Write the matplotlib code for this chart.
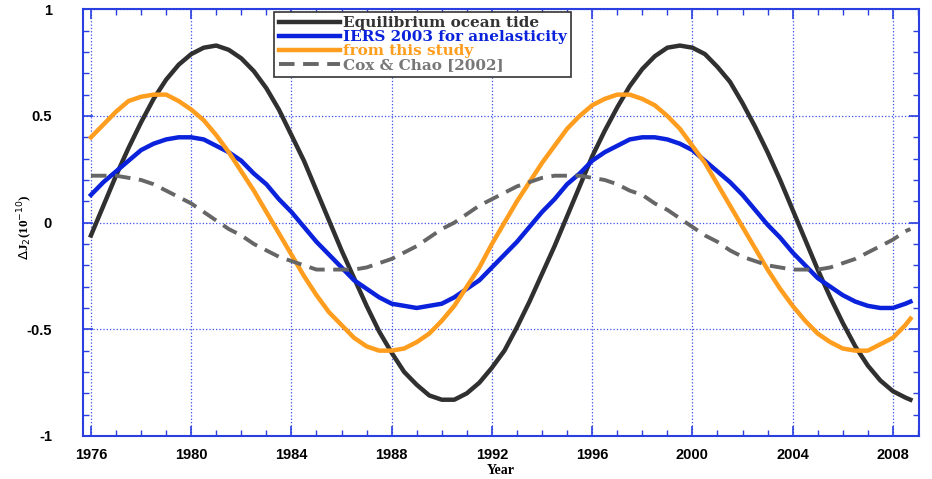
import matplotlib
matplotlib.use("Agg")
import matplotlib.pyplot as plt
from matplotlib.ticker import MultipleLocator

# half-year samples; last point is the end of the record
years = [1976 + 0.5 * i for i in range(66)] + [2008.7]

equilibrium = [-0.06, 0.08, 0.22, 0.35, 0.47, 0.58, 0.67, 0.74, 0.79, 0.82,
               0.83, 0.81, 0.77, 0.71, 0.63, 0.53, 0.41, 0.29, 0.15, 0.01,
               -0.13, -0.26, -0.39, -0.51, -0.61, -0.70, -0.76, -0.81, -0.83, -0.83,
               -0.80, -0.75, -0.68, -0.60, -0.49, -0.37, -0.24, -0.11, 0.03, 0.17,
               0.31, 0.43, 0.54, 0.64, 0.72, 0.78, 0.82, 0.83, 0.82, 0.79,
               0.73, 0.66, 0.56, 0.45, 0.33, 0.20, 0.06, -0.08, -0.22, -0.35,
               -0.47, -0.58, -0.67, -0.74, -0.79, -0.82, -0.83]

iers2003 = [0.13, 0.19, 0.24, 0.29, 0.34, 0.37, 0.39, 0.40, 0.40, 0.39,
            0.36, 0.33, 0.29, 0.23, 0.18, 0.11, 0.05, -0.02, -0.09, -0.15,
            -0.21, -0.27, -0.31, -0.35, -0.38, -0.39, -0.40, -0.39, -0.38, -0.35,
            -0.31, -0.27, -0.21, -0.15, -0.09, -0.02, 0.05, 0.11, 0.18, 0.23,
            0.29, 0.33, 0.36, 0.39, 0.40, 0.40, 0.39, 0.37, 0.34, 0.29,
            0.24, 0.19, 0.13, 0.06, -0.01, -0.07, -0.14, -0.20, -0.26, -0.30,
            -0.34, -0.37, -0.39, -0.40, -0.40, -0.38, -0.37]

this_study = [0.40, 0.46, 0.52, 0.57, 0.59, 0.60, 0.60, 0.57, 0.53, 0.48,
              0.41, 0.33, 0.24, 0.15, 0.05, -0.05, -0.15, -0.25, -0.34, -0.42,
              -0.48, -0.54, -0.58, -0.60, -0.60, -0.59, -0.56, -0.52, -0.46, -0.39,
              -0.30, -0.21, -0.10, 0.00, 0.10, 0.19, 0.28, 0.36, 0.44, 0.50,
              0.55, 0.58, 0.60, 0.60, 0.58, 0.55, 0.50, 0.44, 0.36, 0.28,
              0.18, 0.08, -0.02, -0.12, -0.22, -0.31, -0.39, -0.46, -0.52, -0.56,
              -0.59, -0.60, -0.60, -0.57, -0.54, -0.48, -0.45]

cox_chao = [0.22, 0.22, 0.22, 0.21, 0.20, 0.18, 0.15, 0.12, 0.09, 0.05,
            0.01, -0.03, -0.06, -0.10, -0.13, -0.16, -0.18, -0.20, -0.22, -0.22,
            -0.22, -0.22, -0.21, -0.19, -0.17, -0.14, -0.11, -0.07, -0.03, 0.00,
            0.04, 0.08, 0.11, 0.14, 0.17, 0.19, 0.21, 0.22, 0.22, 0.22,
            0.21, 0.20, 0.18, 0.15, 0.13, 0.09, 0.06, 0.02, -0.02, -0.06,
            -0.09, -0.13, -0.16, -0.18, -0.20, -0.21, -0.22, -0.22, -0.22, -0.21,
            -0.19, -0.17, -0.14, -0.11, -0.08, -0.04, -0.03]

axis_blue = '#2a3fe0'

fig = plt.figure(figsize=(9.32, 4.79), dpi=100)
ax = fig.add_axes([0.0887, 0.0898, 0.8973, 0.8908])

ax.plot(years, equilibrium, color='#303030', lw=3.2, label='Equilibrium ocean tide')
ax.plot(years, iers2003, color='#0a22dc', lw=3.2, label='IERS 2003 for anelasticity')
ax.plot(years, this_study, color='#ff9d1e', lw=3.2, label='from this study')
ax.plot(years, cox_chao, color='#666666', lw=2.8, dashes=(4, 2.2),
        label='Cox & Chao [2002]')

ax.set_xlim(1975.67, 2009.04)
ax.set_ylim(-1, 1)
ax.xaxis.set_major_locator(MultipleLocator(4))
ax.xaxis.set_minor_locator(MultipleLocator(1))
ax.yaxis.set_minor_locator(MultipleLocator(0.1))
ax.set_yticks([-1, -0.5, 0, 0.5, 1])
ax.set_yticklabels(['-1', '-0.5', '0', '0.5', '1'])

ax.grid(True, which='major', color='#3a50e8', linestyle=':', linewidth=0.9)
for s in ax.spines.values():
    s.set_color(axis_blue)
    s.set_linewidth(1.5)
ax.tick_params(which='both', direction='in', top=True, right=True, color=axis_blue)
ax.tick_params(which='major', length=7, width=1.2)
ax.tick_params(which='minor', length=4, width=1)
ax.tick_params(axis='y', which='major', pad=22)
ax.tick_params(axis='x', which='major', pad=9)
for lab in ax.get_xticklabels() + ax.get_yticklabels():
    lab.set_fontfamily('Liberation Sans')
    lab.set_fontweight('bold')
    lab.set_fontsize(10.5)

ax.set_xlabel('Year', family='Liberation Serif', fontweight='bold', fontsize=10, labelpad=1)
ax.set_ylabel(r'$\Delta$J$_2$(10$^{-10}$)', family='Liberation Serif', fontweight='bold',
              fontsize=9.5)
ax.yaxis.set_label_coords(-0.057, 0.49)

leg = ax.legend(loc='upper left', bbox_to_anchor=(0.229, 0.994), frameon=True,
                fancybox=False, handlelength=4.0, handletextpad=0.2, labelspacing=0.0,
                borderpad=0.3, borderaxespad=0,
                prop={'family': 'DejaVu Serif', 'weight': 'bold', 'size': 11})
leg.get_frame().set_edgecolor('#333333')
leg.get_frame().set_linewidth(1.2)
leg.get_frame().set_alpha(1)
text_colors = ['#333333', '#0a22dc', '#ff9d1e', '#777777']
for t, c in zip(leg.get_texts(), text_colors):
    t.set_color(c)

fig.savefig('out.png', dpi=100)
